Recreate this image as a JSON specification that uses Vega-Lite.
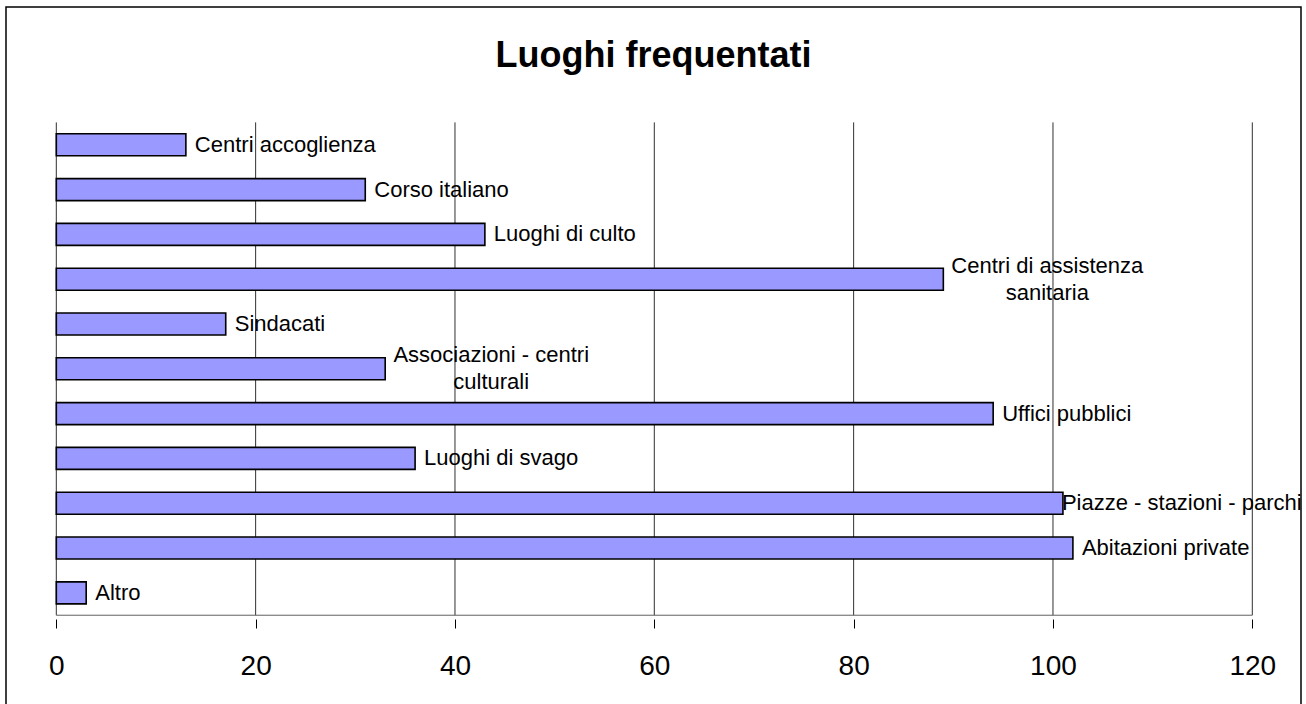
{
  "$schema": "https://vega.github.io/schema/vega-lite/v6.json",
  "width": 1295,
  "height": 698,
  "autosize": {"type": "none"},
  "padding": {"left": 6, "top": 7, "right": 5, "bottom": 0},
  "background": "white",
  "config": {
    "view": {"stroke": "black", "strokeWidth": 1.5},
    "font": "Liberation Sans"
  },
  "title": {
    "text": "Luoghi frequentati",
    "fontSize": 36,
    "fontWeight": "bold",
    "font": "Liberation Sans",
    "color": "black",
    "anchor": "middle",
    "offset": -68
  },
  "datasets": {
    "luoghi": [
      {"ordine": 1, "luogo": "Centri accoglienza", "etichetta": "Centri accoglienza", "valore": 13},
      {"ordine": 2, "luogo": "Corso italiano", "etichetta": "Corso italiano", "valore": 31},
      {"ordine": 3, "luogo": "Luoghi di culto", "etichetta": "Luoghi di culto", "valore": 43},
      {"ordine": 4, "luogo": "Centri di assistenza sanitaria", "etichetta": "Centri di assistenza\nsanitaria", "valore": 89},
      {"ordine": 5, "luogo": "Sindacati", "etichetta": "Sindacati", "valore": 17},
      {"ordine": 6, "luogo": "Associazioni - centri culturali", "etichetta": "Associazioni - centri\nculturali", "valore": 33},
      {"ordine": 7, "luogo": "Uffici pubblici", "etichetta": "Uffici pubblici", "valore": 94},
      {"ordine": 8, "luogo": "Luoghi di svago", "etichetta": "Luoghi di svago", "valore": 36},
      {"ordine": 9, "luogo": "Piazze - stazioni - parchi", "etichetta": "Piazze - stazioni - parchi", "valore": 101},
      {"ordine": 10, "luogo": "Abitazioni private", "etichetta": "Abitazioni private", "valore": 102},
      {"ordine": 11, "luogo": "Altro", "etichetta": "Altro", "valore": 3}
    ],
    "griglia": [
      {"valore": 0}, {"valore": 20}, {"valore": 40}, {"valore": 60},
      {"valore": 80}, {"valore": 100}, {"valore": 120}
    ]
  },
  "layer": [
    {
      "data": {"name": "griglia"},
      "mark": {"type": "rule", "color": "#303030", "strokeWidth": 1},
      "encoding": {
        "x": {
          "field": "valore",
          "type": "quantitative",
          "scale": {"domain": [-5.047, 124.886], "nice": false, "zero": false},
          "axis": {
            "values": [0, 20, 40, 60, 80, 100, 120],
            "orient": "bottom",
            "offset": -86,
            "domain": false,
            "grid": false,
            "ticks": true,
            "tickSize": 9,
            "tickColor": "black",
            "tickWidth": 1,
            "labelFontSize": 28,
            "labelFont": "Liberation Sans",
            "labelColor": "black",
            "labelPadding": 24,
            "labelFlush": false,
            "labelOverlap": false,
            "title": null
          }
        },
        "y": {
          "datum": 0.5,
          "type": "quantitative",
          "scale": {"domain": [-1.964, 13.392], "nice": false, "zero": false, "reverse": true},
          "axis": null
        },
        "y2": {"datum": 11.5}
      }
    },
    {
      "data": {"name": "griglia"},
      "mark": {"type": "rule", "color": "#606060", "strokeWidth": 1},
      "encoding": {
        "x": {"aggregate": "min", "field": "valore", "type": "quantitative"},
        "x2": {"aggregate": "max", "field": "valore"},
        "y": {"datum": 11.5, "type": "quantitative"}
      }
    },
    {
      "data": {"name": "luoghi"},
      "mark": {"type": "bar", "orient": "horizontal", "size": 22, "fill": "#9999FF", "stroke": "black", "strokeWidth": 1.6},
      "encoding": {
        "x": {"field": "valore", "type": "quantitative"},
        "x2": {"datum": 0},
        "y": {"field": "ordine", "type": "quantitative"},
        "tooltip": [{"field": "luogo"}, {"field": "valore"}]
      }
    },
    {
      "data": {"name": "luoghi"},
      "transform": [{"filter": "datum.ordine != 4 && datum.ordine != 6 && datum.ordine != 9"}],
      "mark": {"type": "text", "align": "left", "baseline": "middle", "dx": 9, "fontSize": 22, "font": "Liberation Sans", "color": "black"},
      "encoding": {
        "x": {"field": "valore", "type": "quantitative"},
        "y": {"field": "ordine", "type": "quantitative"},
        "text": {"field": "etichetta"}
      }
    },
    {
      "data": {"name": "luoghi"},
      "transform": [{"filter": "datum.ordine == 9"}],
      "mark": {"type": "text", "align": "left", "baseline": "middle", "dx": -1, "fontSize": 22, "font": "Liberation Sans", "color": "black"},
      "encoding": {
        "x": {"field": "valore", "type": "quantitative"},
        "y": {"field": "ordine", "type": "quantitative"},
        "text": {"field": "etichetta"}
      }
    },
    {
      "data": {"name": "luoghi"},
      "transform": [{"filter": "datum.ordine == 4"}],
      "mark": {"type": "text", "align": "center", "baseline": "middle", "dx": 104, "dy": -13.5, "fontSize": 22, "lineHeight": 27, "lineBreak": "\n", "font": "Liberation Sans", "color": "black"},
      "encoding": {
        "x": {"field": "valore", "type": "quantitative"},
        "y": {"field": "ordine", "type": "quantitative"},
        "text": {"field": "etichetta"}
      }
    },
    {
      "data": {"name": "luoghi"},
      "transform": [{"filter": "datum.ordine == 6"}],
      "mark": {"type": "text", "align": "center", "baseline": "middle", "dx": 106, "dy": -13.5, "fontSize": 22, "lineHeight": 27, "lineBreak": "\n", "font": "Liberation Sans", "color": "black"},
      "encoding": {
        "x": {"field": "valore", "type": "quantitative"},
        "y": {"field": "ordine", "type": "quantitative"},
        "text": {"field": "etichetta"}
      }
    }
  ]
}
